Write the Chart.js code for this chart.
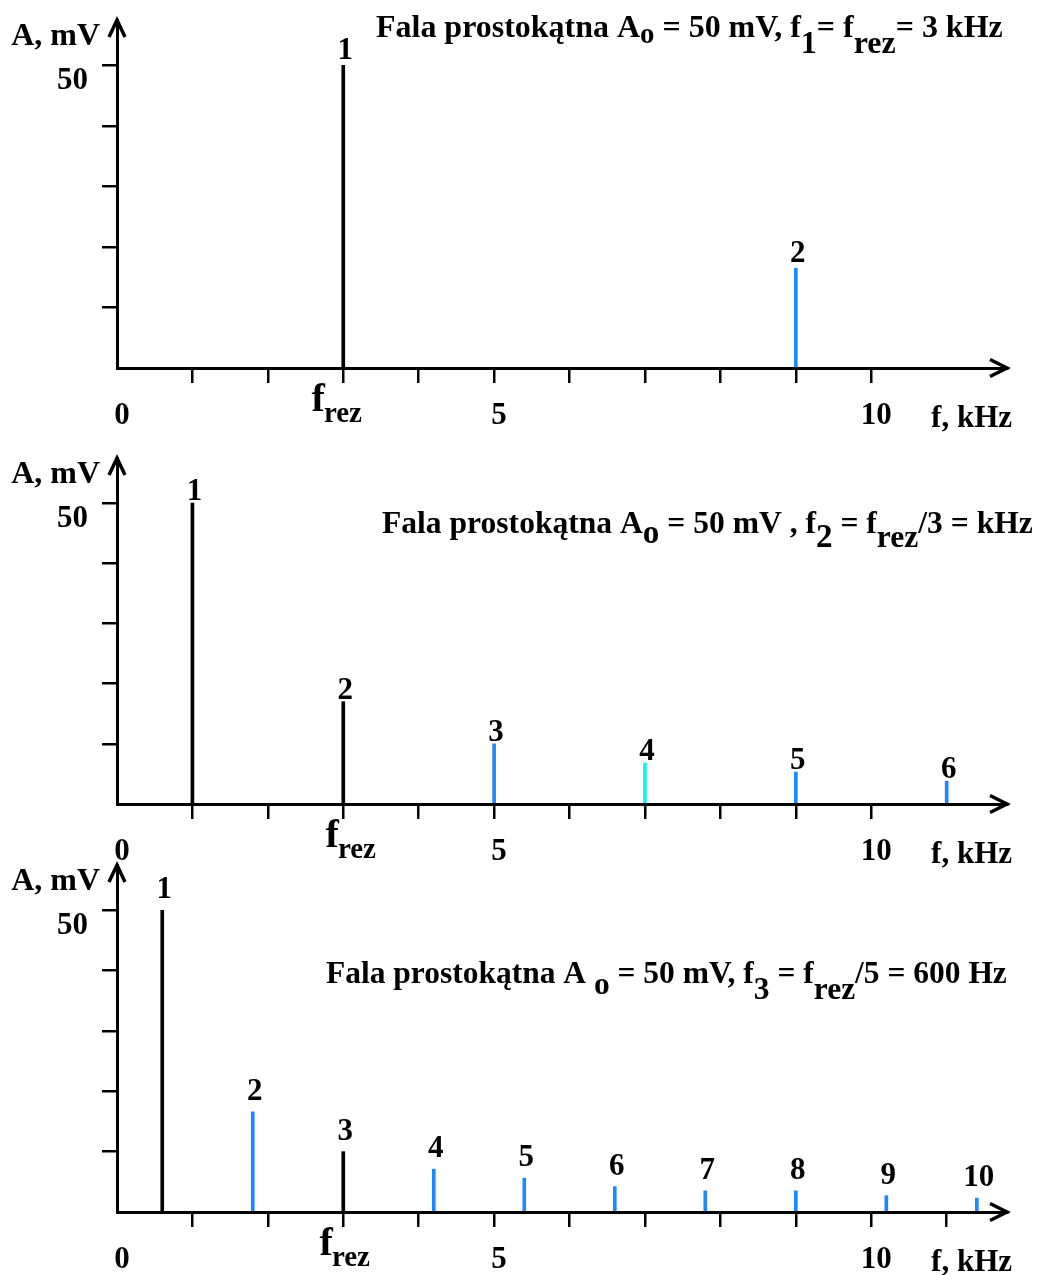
<!DOCTYPE html>
<html>
<head>
<meta charset="utf-8">
<script src="https://cdn.jsdelivr.net/npm/chart.js@4.4.1/dist/chart.umd.min.js"></script>
<style>
  html, body { margin: 0; padding: 0; background: #fff; }
  #page { position: relative; width: 1039px; height: 1275px; overflow: hidden; }
  canvas { position: absolute; left: 0; }
</style>
</head>
<body>
<div id="page">
  <canvas id="c1" width="1039" height="440" style="top:0px"></canvas>
  <canvas id="c2" width="1039" height="445" style="top:430px"></canvas>
  <canvas id="c3" width="1039" height="430" style="top:845px"></canvas>
</div>
<script>
// data: harmonic frequencies (kHz) and amplitudes (mV)
const p1Freq = [3, 9];
const p1Amp = [50, 16.5];
const p1Num = ["1", "2"];

const p2Freq = [1, 3, 5, 7, 9, 11];
const p2Amp = [50, 17, 10, 6.8, 5.3, 3.8];
const p2Num = ["1", "2", "3", "4", "5", "6"];

const p3Freq = [0.6, 1.8, 3, 4.2, 5.4, 6.6, 7.8, 9, 10.2, 11.4];
const p3Amp = [50, 16.6, 10, 7.1, 5.6, 4.2, 3.5, 3.5, 2.7, 2.3];
const p3Num = ["1", "2", "3", "4", "5", "6", "7", "8", "9", "10"];

// ticks
const yTicks = [0, 10, 20, 30, 40, 50];
const yTickLabels = { 50: "50" };
const xTicksA = [0, 1, 2, 3, 4, 5, 6, 7, 8, 9, 10];
const xTicksB = [0, 1, 2, 3, 4, 5, 6, 7, 8, 9, 10, 11];
const xTickLabels = { 0: "0", 5: "5", 10: "10" };
const fRez = 3;

// stem colours
const BLACK = "#000000", BLUE = "#1e88ff", CYAN = "#12f0f4";
const p1Colors = [BLACK, BLUE];
const p2Colors = [BLACK, BLACK, BLUE, CYAN, BLUE, BLUE];
const p3Colors = [BLACK, BLUE, BLACK, BLUE, BLUE, BLUE, BLUE, BLUE, BLUE, BLUE];

const FONT = '"Liberation Serif", "Times New Roman", serif';

function drawRich(ctx, segs, x, y, width) {
  let total = 0;
  segs.forEach(s => {
    ctx.font = "bold " + (100 * s[2]) + "px " + FONT;
    total += ctx.measureText(s[0]).width;
  });
  const size = 100 * width / total;
  let cx = x;
  segs.forEach(s => {
    ctx.font = "bold " + (size * s[2]) + "px " + FONT;
    ctx.fillText(s[0], cx, y + s[1] * size);
    cx += ctx.measureText(s[0]).width;
  });
}

const overlay = {
  id: "overlay",
  afterDraw(chart) {
    const o = chart.options.plugins.overlay;
    const ctx = chart.ctx;
    const a = chart.chartArea;
    const xs = chart.scales.x;
    const ys = chart.scales.y;
    ctx.save();
    ctx.fillStyle = "#000";
    ctx.strokeStyle = "#000";
    ctx.lineWidth = 3.5;
    // arrow heads
    ctx.beginPath();
    ctx.moveTo(a.left - 8, a.top + 17);
    ctx.lineTo(a.left, a.top);
    ctx.lineTo(a.left + 8, a.top + 17);
    ctx.moveTo(a.right - 17, a.bottom - 8.5);
    ctx.lineTo(a.right, a.bottom);
    ctx.lineTo(a.right - 17, a.bottom + 8.5);
    ctx.stroke();

    ctx.textBaseline = "alphabetic";
    // y tick labels (sit just below their tick)
    ctx.font = "bold 31px " + FONT;
    ctx.textAlign = "right";
    Object.keys(yTickLabels).forEach(v => {
      ctx.fillText(yTickLabels[v], a.left - 29, ys.getPixelForValue(+v) + 24);
    });

    // axis titles
    ctx.font = "bold 32px " + FONT;
    ctx.fillText("A, mV", a.left - 17, a.top + 25);
    ctx.font = "bold 31px " + FONT;
    ctx.fillText("f, kHz", a.right + 5, a.bottom + 59);

    // f_rez label
    ctx.textAlign = "left";
    const px = xs.getPixelForValue(fRez);
    ctx.font = "bold 40px " + FONT;
    const wf = ctx.measureText("f").width;
    ctx.font = "bold 29px " + FONT;
    const wr = ctx.measureText("rez").width;
    const left = px - (wf + wr) / 2 + o.rezDx;
    ctx.font = "bold 40px " + FONT;
    ctx.fillText("f", left, a.bottom + 43);
    ctx.font = "bold 29px " + FONT;
    ctx.fillText("rez", left + wf - 1, a.bottom + 54);

    // harmonic numbers above the stems
    ctx.textAlign = "center";
    ctx.font = "bold 31px " + FONT;
    const meta = chart.getDatasetMeta(0);
    meta.data.forEach((bar, i) => {
      ctx.fillText(o.nums[i], bar.x + 2, bar.y - o.gap);
    });

    // title
    ctx.textAlign = "left";
    drawRich(ctx, o.title.segs, o.title.x, o.title.y, o.title.w);
    ctx.restore();
  }
};

function makePanel(id, freq, amp, nums, colors, xTicks, H, top, bottom, title, rezDx, gap) {
  const tickFont = { family: FONT, weight: "bold", size: 31 };
  const hideZero = c => (c.tick && c.tick.value === 0 ? "rgba(0,0,0,0)" : "#000");
  return new Chart(document.getElementById(id), {
    type: "bar",
    data: {
      datasets: [{
        data: freq.map((f, i) => ({ x: f, y: amp[i] })),
        backgroundColor: colors,
        borderWidth: 0,
        barThickness: 3,
        grouped: false
      }]
    },
    options: {
      responsive: false,
      animation: false,
      layout: { padding: { top: top, left: 0, right: 32, bottom: 0 } },
      plugins: {
        legend: { display: false },
        tooltip: { enabled: false },
        overlay: { nums: nums, title: title, rezDx: rezDx, gap: gap }
      },
      scales: {
        x: {
          type: "linear",
          min: 0,
          max: 11.8,
          offset: false,
          grid: { display: true, drawOnChartArea: false, drawTicks: true, tickLength: 15,
                  lineWidth: 2.5, offset: false, color: "#000", tickColor: hideZero },
          border: { display: true, color: "#000", width: 3 },
          ticks: { autoSkip: false, maxRotation: 0, padding: 14, labelOffset: 5, color: "#000", font: tickFont,
                   callback: v => (xTickLabels[v] !== undefined ? xTickLabels[v] : "") },
          afterBuildTicks: s => { s.ticks = xTicks.map(v => ({ value: v })); },
          afterFit: s => { s.height = H - bottom; }
        },
        y: {
          type: "linear",
          min: 0,
          max: 57.5,
          grid: { display: true, drawOnChartArea: false, drawTicks: true, tickLength: 15,
                  lineWidth: 2.5, color: "#000", tickColor: hideZero },
          border: { display: true, color: "#000", width: 3 },
          ticks: { display: false },
          afterBuildTicks: s => { s.ticks = yTicks.map(v => ({ value: v })); },
          afterFit: s => { s.width = 117; }
        }
      }
    },
    plugins: [overlay]
  });
}

makePanel("c1", p1Freq, p1Amp, p1Num, p1Colors, xTicksA, 440, 20, 368, {
  x: 376, y: 37, w: 627,
  segs: [["Fala prostokątna A", 0, 1], ["o", 0.2, 0.9], [" = 50 mV, f", 0, 1], ["1", 0.5, 1],
         ["= f", 0, 1], ["rez", 0.5, 1], ["= 3 kHz", 0, 1]]
}, -6, 6);

makePanel("c2", p2Freq, p2Amp, p2Num, p2Colors, xTicksA, 445, 28, 374, {
  x: 382, y: 103, w: 651,
  segs: [["Fala prostokątna A", 0, 1], ["o", 0.33, 1.05], [" = 50 mV , f", 0, 1], ["2", 0.45, 1.05],
         [" = f", 0, 1], ["rez", 0.45, 1], ["/3 = kHz", 0, 1]]
}, 8, 3);

makePanel("c3", p3Freq, p3Amp, p3Num, p3Colors, xTicksB, 430, 20, 367, {
  x: 326, y: 138, w: 681,
  segs: [["Fala prostokątna A", 0, 1], [" o", 0.35, 1], [" = 50 mV, f", 0, 1], ["3", 0.5, 1],
         [" = f", 0, 1], ["rez", 0.5, 1], ["/5 = 600 Hz", 0, 1]]
}, 2, 12);
</script>
</body>
</html>
